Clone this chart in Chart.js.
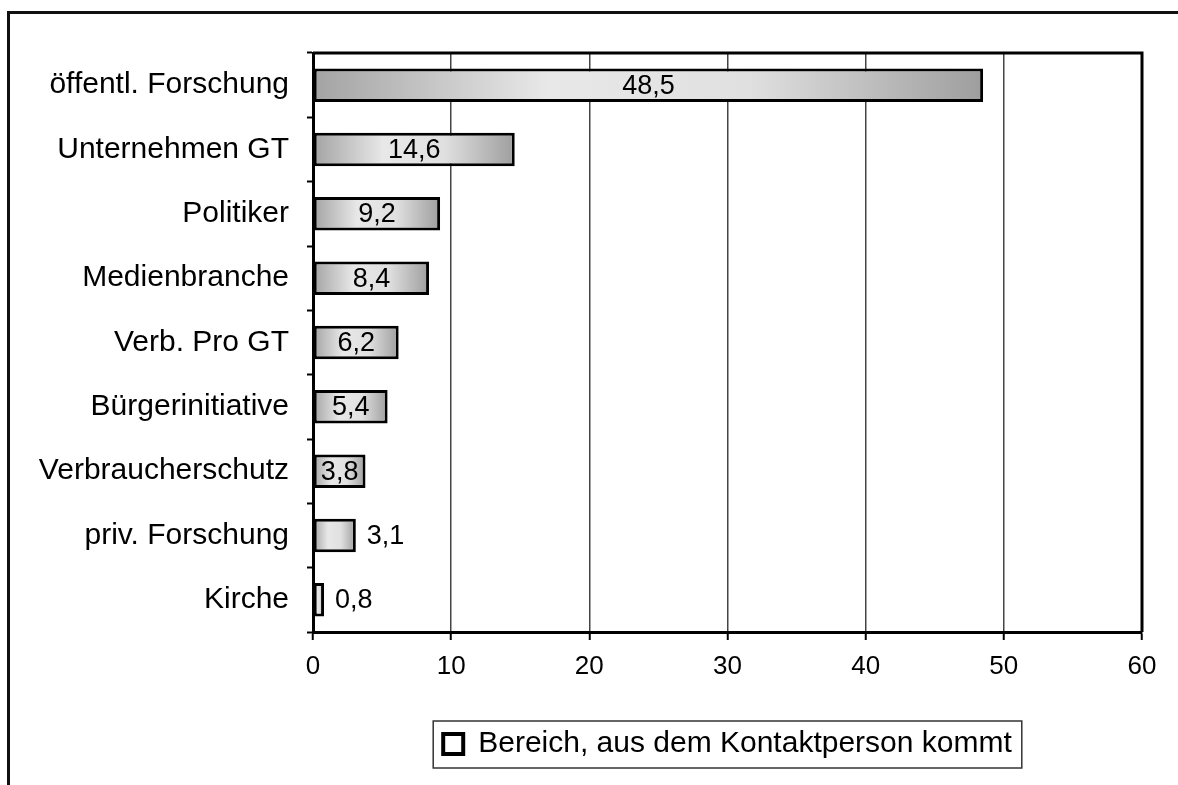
<!DOCTYPE html>
<html>
<head>
<meta charset="utf-8">
<script src="https://cdn.jsdelivr.net/npm/chart.js@4/dist/chart.umd.min.js"></script>
<style>
  html, body { margin: 0; padding: 0; background: #fff; }
  #wrap { position: relative; width: 1178px; height: 785px; overflow: hidden; }
  #frame { position: absolute; left: 7px; top: 11px; right: -10px; bottom: -10px;
           border-top: 3px solid #111; border-left: 3px solid #111; }
  canvas { position: absolute; left: 0; top: 0; }
</style>
</head>
<body>
<div id="wrap">
  <div id="frame"></div>
  <canvas id="contact_chart" width="1178" height="785"></canvas>
</div>
<script>
// categories, top to bottom
const categories = ['öffentl. Forschung', 'Unternehmen GT', 'Politiker', 'Medienbranche',
    'Verb. Pro GT', 'Bürgerinitiative', 'Verbraucherschutz', 'priv. Forschung', 'Kirche'];
// share in percent
const shares = [48.5, 14.6, 9.2, 8.4, 6.2, 5.4, 3.8, 3.1, 0.8];
const tickValues = [0, 10, 20, 30, 40, 50, 60];
const seriesLabel = 'Bereich, aus dem Kontaktperson kommt';

const fontFamily = '"Liberation Sans", Arial, Helvetica, sans-serif';

function fmt(v) {
    return String(v).replace('.', ',');
}

// grey - light - grey gradient along each bar
function barFill(ctx) {
    if (ctx.type !== 'data') return '#d0d0d0';
    const x = ctx.chart.scales.x;
    if (!x) return '#d0d0d0';
    const x0 = x.getPixelForValue(0);
    const x1 = x.getPixelForValue(ctx.raw);
    if (!isFinite(x0) || !isFinite(x1) || x1 - x0 < 2) return '#f2f2f2';
    const g = ctx.chart.ctx.createLinearGradient(x0, 0, x1, 0);
    g.addColorStop(0, '#a3a3a3');
    g.addColorStop(0.35, '#e8e8e8');
    g.addColorStop(0.65, '#e0e0e0');
    g.addColorStop(1, '#9e9e9e');
    return g;
}

// top + right side of the plot frame
const plotFrame = {
    id: 'plotFrame',
    afterDraw(chart) {
        const a = chart.chartArea;
        const c = chart.ctx;
        c.save();
        c.strokeStyle = '#000';
        c.lineWidth = 3;
        c.beginPath();
        c.moveTo(a.left, a.top);
        c.lineTo(a.right, a.top);
        c.lineTo(a.right, a.bottom);
        c.stroke();
        c.restore();
    }
};

// value labels in / next to the bars
const valueLabels = {
    id: 'valueLabels',
    afterDatasetsDraw(chart) {
        const c = chart.ctx;
        const meta = chart.getDatasetMeta(0);
        c.save();
        c.font = '27px ' + fontFamily;
        c.fillStyle = '#000';
        c.textBaseline = 'middle';
        meta.data.forEach(function (bar, i) {
            const txt = fmt(shares[i]);
            const w = c.measureText(txt).width;
            const len = bar.x - bar.base;
            if (w + 10 < len) {
                c.textAlign = 'center';
                c.fillText(txt, (bar.x + bar.base) / 2, bar.y + 1);
            } else {
                c.textAlign = 'left';
                c.fillText(txt, bar.x + 11, bar.y + 1);
            }
        });
        c.restore();
    }
};

// thin box round the legend item
const legendBox = {
    id: 'legendBox',
    afterDraw(chart) {
        const lg = chart.legend;
        if (!lg || !lg.legendHitBoxes || !lg.legendHitBoxes.length) return;
        const hb = lg.legendHitBoxes[0];
        const cy = hb.top + hb.height / 2;
        const c = chart.ctx;
        c.save();
        c.strokeStyle = '#333';
        c.lineWidth = 1.5;
        c.strokeRect(hb.left - 10, cy - 23, hb.width + 20, 47);
        c.restore();
    }
};

const canvas = document.getElementById('contact_chart');
new Chart(canvas, {
    type: 'bar',
    data: {
        labels: categories,
        datasets: [{
            label: seriesLabel,
            data: shares,
            backgroundColor: barFill,
            borderColor: '#000',
            borderWidth: 3,
            borderSkipped: false,
            categoryPercentage: 0.52,
            barPercentage: 1
        }]
    },
    options: {
        indexAxis: 'y',
        responsive: false,
        animation: false,
        devicePixelRatio: 1,
        layout: { padding: { top: 53, right: 36, left: 0, bottom: 16 } },
        scales: {
            x: {
                min: 0,
                max: 60,
                afterBuildTicks: function (scale) {
                    scale.ticks = tickValues.map(v => ({ value: v }));
                },
                afterFit: function (scale) { scale.height = 85; },
                border: { display: true, color: '#000', width: 3 },
                grid: {
                    color: '#444',
                    lineWidth: 1.5,
                    drawTicks: true,
                    tickLength: 8,
                    tickColor: '#000',
                    tickWidth: 2
                },
                ticks: {
                    color: '#000',
                    padding: 11,
                    maxRotation: 0,
                    font: { family: fontFamily, size: 26 }
                }
            },
            y: {
                afterFit: function (scale) { scale.width = 313; },
                border: { display: true, color: '#000', width: 3 },
                grid: {
                    offset: true,
                    drawOnChartArea: false,
                    drawTicks: true,
                    tickLength: 6,
                    tickColor: '#000',
                    tickWidth: 2
                },
                ticks: {
                    color: '#000',
                    padding: 18,
                    autoSkip: false,
                    font: { family: fontFamily, size: 30 }
                }
            }
        },
        plugins: {
            tooltip: { enabled: false },
            legend: {
                position: 'bottom',
                fullSize: false,
                labels: {
                    color: '#000',
                    padding: 12,
                    boxWidth: 20,
                    boxHeight: 20,
                    font: { family: fontFamily, size: 30 },
                    generateLabels: function (chart) {
                        return [{
                            text: seriesLabel,
                            fillStyle: '#fff',
                            strokeStyle: '#000',
                            lineWidth: 4,
                            hidden: false,
                            datasetIndex: 0
                        }];
                    }
                }
            }
        }
    },
    plugins: [plotFrame, valueLabels, legendBox]
});
</script>
</body>
</html>
